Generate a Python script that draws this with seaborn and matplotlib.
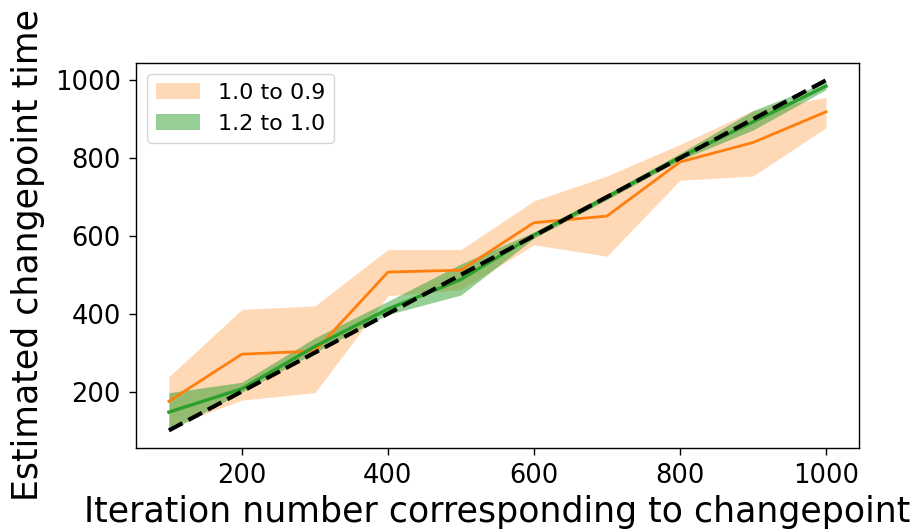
import matplotlib
matplotlib.use("Agg")
import matplotlib.pyplot as plt
import numpy as np
import pandas as pd
import seaborn as sns

# Iteration at which the changepoint was placed
iterations = [100, 200, 300, 400, 500, 600, 700, 800, 900, 1000]

# Rate change 1.0 -> 0.9: mean estimate and spread
est_10_09 = [175, 296, 304, 507, 512, 634, 651, 790, 840, 919]
low_10_09 = [108, 178, 197, 446, 462, 577, 548, 743, 754, 878]
high_10_09 = [238, 411, 420, 565, 565, 690, 754, 835, 922, 956]

# Rate change 1.2 -> 1.0: mean estimate and spread
est_12_10 = [147, 207, 316, 412, 488, 602, 700, 802, 893, 985]
low_12_10 = [98, 198, 300, 398, 448, 594, 693, 795, 872, 976]
high_12_10 = [197, 224, 338, 432, 528, 610, 708, 812, 922, 995]

series_labels = ["1.0 to 0.9", "1.2 to 1.0"]

plt.rcParams["font.family"] = ["DejaVu Sans"]

orange = "#ff7f0e"
green = "#2ca02c"

df = pd.DataFrame({
    "iteration": iterations * 2,
    "estimate": est_10_09 + est_12_10,
    "series": [series_labels[0]] * len(iterations) + [series_labels[1]] * len(iterations),
})

fig = plt.figure(figsize=(9.22, 5.32), dpi=100)
ax = fig.add_axes([0.1475, 0.158, 0.784, 0.724])

ax.fill_between(iterations, low_10_09, high_10_09, color=orange, alpha=0.3,
                linewidth=0, label=series_labels[0])
ax.fill_between(iterations, low_12_10, high_12_10, color=green, alpha=0.5,
                linewidth=0, label=series_labels[1])

sns.lineplot(data=df[df["series"] == series_labels[0]], x="iteration", y="estimate",
             color=orange, linewidth=2.0, ax=ax, legend=False)
sns.lineplot(data=df[df["series"] == series_labels[1]], x="iteration", y="estimate",
             color=green, linewidth=2.4, ax=ax, legend=False)

# Ideal estimate: the true changepoint
ax.plot(iterations, iterations, color="black", linestyle="--", linewidth=3.0)

ax.set_xlim(55, 1045)
ax.set_ylim(55, 1045)
ax.set_xticks([200, 400, 600, 800, 1000])
ax.set_yticks([200, 400, 600, 800, 1000])
ax.tick_params(axis="both", labelsize=18.5, length=5, width=1.0, pad=6)
for sp in ax.spines.values():
    sp.set_linewidth(1.0)

ax.set_xlabel("Iteration number corresponding to changepoint", fontsize=25, labelpad=4)
ax.set_ylabel("Estimated changepoint time", fontsize=25, labelpad=7)

handles, labels = ax.get_legend_handles_labels()
ax.legend(handles[:2], labels[:2], loc="upper left", fontsize=16)

fig.savefig("out.png", dpi=100)
